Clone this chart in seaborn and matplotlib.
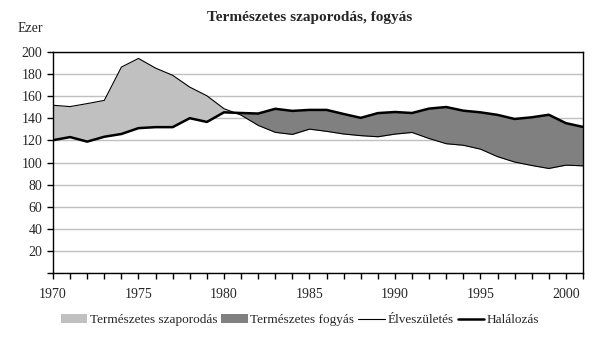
import numpy as np
import pandas as pd
import matplotlib
matplotlib.use("Agg")
import matplotlib.pyplot as plt
from matplotlib.patches import Patch
from matplotlib.lines import Line2D
import seaborn as sns

years = list(range(1970, 2002))
births = [151.8, 150.6, 153.3, 156.2, 186.3, 194.2, 185.4, 178.9, 168.2, 160.4,
          148.7, 142.9, 133.6, 127.3, 125.4, 130.2, 128.2, 125.8, 124.3, 123.3,
          125.7, 127.2, 121.7, 117.0, 115.6, 112.1, 105.3, 100.4, 97.3, 94.6,
          97.6, 97.0]
deaths = [120.2, 123.0, 118.9, 123.3, 125.8, 131.1, 132.0, 132.0, 140.1, 136.7,
          145.4, 144.8, 144.3, 148.6, 146.7, 147.6, 147.6, 143.9, 140.4, 144.7,
          145.7, 144.8, 148.8, 150.2, 146.9, 145.4, 143.1, 139.4, 140.9, 143.2,
          135.6, 132.2]
year_labels = ["1970", "1975", "1980", "1985", "1990", "1995", "2000"]
title = "Természetes szaporodás, fogyás"
legend_labels = ["Természetes szaporodás", "Természetes fogyás", "Élveszületés", "Halálozás"]

df = pd.DataFrame({"year": years, "births": births, "deaths": deaths})

sns.set_style("white")
plt.rcParams["font.family"] = ["Liberation Serif", "DejaVu Serif"]

fig = plt.figure(figsize=(6.08, 3.4), dpi=100)
ax = fig.add_axes([53/608, 67/340, 530/608, 221/340])

x = np.array(years, dtype=float)
b = np.array(births)
d = np.array(deaths)
ax.fill_between(x, d, b, where=b >= d, interpolate=True, color="#C0C0C0", linewidth=0, zorder=1)
ax.fill_between(x, b, d, where=d >= b, interpolate=True, color="#808080", linewidth=0, zorder=1)

sns.lineplot(data=df, x="year", y="births", ax=ax, color="black", linewidth=0.8, zorder=3)
sns.lineplot(data=df, x="year", y="deaths", ax=ax, color="black", linewidth=1.8, zorder=3)

ax.set_xlim(1970, 2001)
ax.set_ylim(0, 200)
ax.set_yticks(range(0, 201, 20))
ax.set_yticklabels([""] + [str(v) for v in range(20, 201, 20)])
ax.set_xticks(range(1970, 2002))
ax.set_xticklabels([str(y) if str(y) in year_labels else "" for y in range(1970, 2002)])
ax.yaxis.grid(True, color="#C0C0C0", linewidth=1)
ax.set_axisbelow(True)
ax.set_xlabel("")
ax.set_ylabel("")
for s in ax.spines.values():
    s.set_color("black")
    s.set_linewidth(1)
ax.tick_params(axis="both", which="both", direction="out", length=4, width=1,
               color="black", labelsize=10, bottom=True, left=True)
ax.tick_params(axis="x", pad=7)

fig.text(0.51, 1 - 17/340, title, ha="center", va="center", fontsize=11, fontweight="bold")
fig.text(30/608, 1 - 28/340, "Ezer", ha="center", va="center", fontsize=10)

handles = [Patch(facecolor="#C0C0C0", edgecolor="none"),
           Patch(facecolor="#808080", edgecolor="none"),
           Line2D([], [], color="black", linewidth=0.8),
           Line2D([], [], color="black", linewidth=1.8)]
fig.legend(handles, legend_labels, loc="center", bbox_to_anchor=(300/608, 1 - 320/340),
           ncol=4, frameon=False, fontsize=9.5, handlelength=2.0, handleheight=0.7,
           handletextpad=0.2, columnspacing=0.3)

fig.savefig("out.png", dpi=100)
